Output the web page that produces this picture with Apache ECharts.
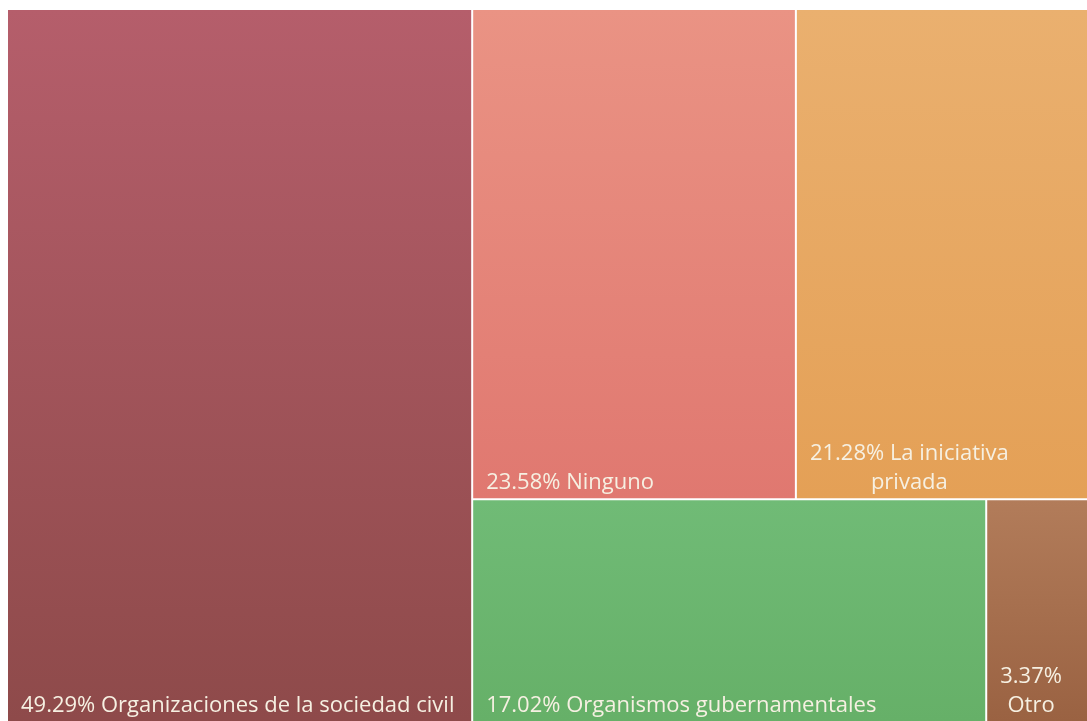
<!DOCTYPE html>
<html>
<head>
<meta charset="utf-8">
<title>Treemap</title>
<script src="https://cdn.jsdelivr.net/npm/echarts@6/dist/echarts.min.js"></script>
<style>
  html, body { margin: 0; padding: 0; background: #ffffff; }
  #chart { width: 1087px; height: 721px; }
</style>
</head>
<body>
<div id="chart"></div>
<script>
// Categories and their share of responses (%)
const categories = [
  'Organizaciones de la sociedad civil',
  'Ninguno',
  'La iniciativa privada',
  'Organismos gubernamentales',
  'Otro'
];
const shares = [49.29, 23.58, 21.28, 17.02, 3.37];

// Fill of each tile, top and bottom stop of a soft vertical gradient
const tileTop = ['#b55e6b', '#ea9384', '#eab06f', '#70bb76', '#b27c5a'];
const tileBottom = ['#8e4a4a', '#e07870', '#e4a056', '#66b068', '#9a6242'];

// Labels that wrap onto a second line: the word(s) that start the new line
const lineBreaks = { 'La iniciativa privada': 'privada', 'Otro': 'Otro' };

const FONT_FAMILY = 'Open Sans';
const FONT_SIZE = 22;
const LINE_HEIGHT = 29;
const LABEL_INSET_X = 13;
const LABEL_INSET_BOTTOM = 6;

function labelText(name, value) {
  const full = value.toFixed(2) + '% ' + name;
  const tail = lineBreaks[name];
  let lines = [full];
  if (tail) {
    const cut = full.lastIndexOf(tail);
    lines = [full.slice(0, cut).trim(), full.slice(cut)];
  }
  return lines.map(l => '{t|' + l + '}').join('\n');
}

// Width of a plain text line in the label font
const measureCtx = document.createElement('canvas').getContext('2d');
measureCtx.font = FONT_SIZE + 'px "' + FONT_FAMILY + '"';
function lineWidth(s) {
  return measureCtx.measureText(s).width;
}

const data = categories.map((name, i) => ({
  name: name,
  value: shares[i],
  itemStyle: {
    color: {
      type: 'linear', x: 0, y: 0, x2: 0, y2: 1,
      colorStops: [
        { offset: 0, color: tileTop[i] },
        { offset: 1, color: tileBottom[i] }
      ]
    }
  }
}));

const chart = echarts.init(document.getElementById('chart'), null, { renderer: 'canvas' });
chart.setOption({
  animation: false,
  series: [{
    type: 'treemap',
    left: 8,
    top: 10,
    right: 0,
    bottom: 0,
    roam: false,
    nodeClick: false,
    breadcrumb: { show: false },
    squareRatio: 1,
    itemStyle: { gapWidth: 2, borderWidth: 0, borderColor: '#ffffff' },
    label: {
      show: true,
      color: '#f6f0e2',
      fontFamily: FONT_FAMILY,
      fontSize: FONT_SIZE,
      overflow: 'none',
      formatter: p => labelText(p.name, p.value),
      rich: {
        t: { align: 'center', color: '#f6f0e2', fontFamily: FONT_FAMILY, fontSize: FONT_SIZE, lineHeight: LINE_HEIGHT }
      }
    },
    // Anchor each label block at the lower-left corner of its tile,
    // with wrapped lines centred under the widest one.
    labelLayout: function (p) {
      const lines = String(p.text || '').split('\n')
        .map(s => s.replace(/\{[a-z]+\|([^}]*)\}/g, '$1'));
      const w = Math.max.apply(null, lines.map(lineWidth));
      return {
        x: p.rect.x + LABEL_INSET_X + w / 2,
        y: p.rect.y + p.rect.height - LABEL_INSET_BOTTOM - LINE_HEIGHT * lines.length,
        align: 'center',
        verticalAlign: 'top'
      };
    },
    data: data
  }]
});
</script>
</body>
</html>
